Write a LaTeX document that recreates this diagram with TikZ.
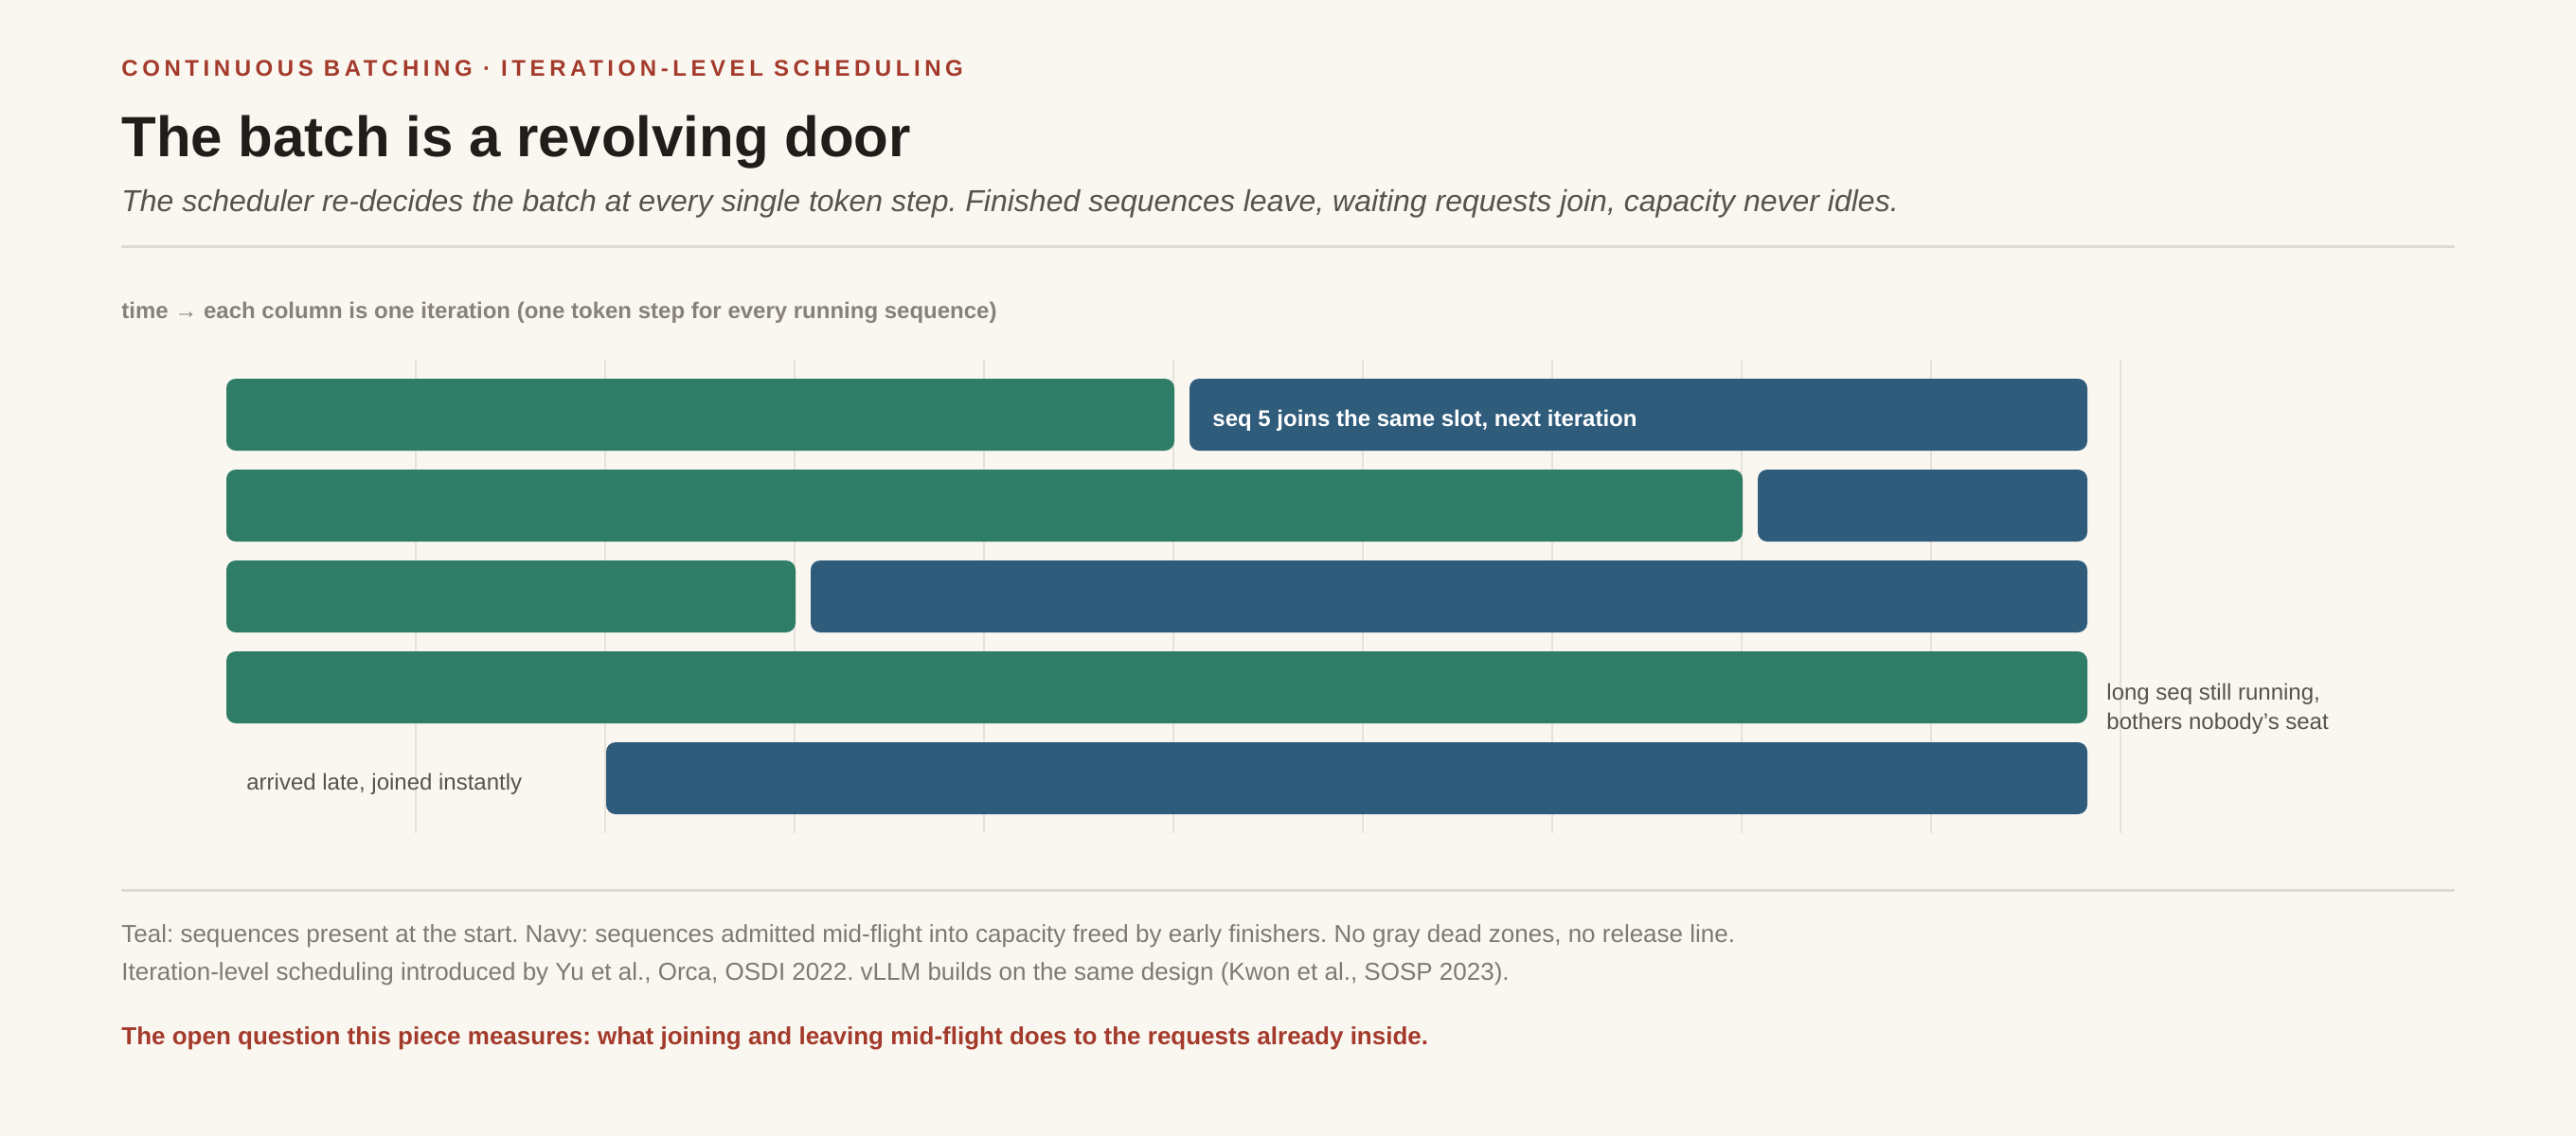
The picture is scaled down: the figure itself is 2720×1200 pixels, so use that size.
\documentclass[tikz,border=0pt]{standalone}
\usepackage{fontspec}
\setmainfont{Liberation Sans}
\newfontfamily\eyebrowfont[LetterSpace=19]{Liberation Sans}
\usetikzlibrary{positioning}
\frenchspacing

\definecolor{paper}{HTML}{FAF7F1}
\definecolor{tealbar}{HTML}{2F7D66}
\definecolor{navybar}{HTML}{305C7C}
\definecolor{brick}{HTML}{A33A2B}
\definecolor{ink}{HTML}{201E1B}
\definecolor{subgray}{HTML}{57524B}
\definecolor{axisgray}{HTML}{878179}
\definecolor{notegray}{HTML}{7E7971}
\definecolor{gridgray}{HTML}{E7E2D9}
\definecolor{rulegray}{HTML}{DEDAD2}

\begin{document}
\begin{tikzpicture}[x=0.5pt,y=-0.5pt,
  bar/.style={rectangle,rounded corners=5pt,inner sep=0pt,outer sep=0pt,minimum height=38pt,anchor=west},
  teal/.style={bar,fill=tealbar},
  navy/.style={bar,fill=navybar},
  txt/.style={inner sep=0pt,anchor=base west},
  gridline/.style={gridgray,line width=1pt},
  rule/.style={rulegray,line width=1.5pt}]
  \fill[paper] (0,0) rectangle (2720,1200);
  \useasboundingbox (0,0) rectangle (2720,1200);

  % header
  \node[txt,text=brick,font=\eyebrowfont\bfseries\fontsize{12}{14}\selectfont] (eyebrow) at (128,80) {CONTINUOUS BATCHING · ITERATION-LEVEL SCHEDULING};
  \node[txt,text=ink,font=\bfseries\fontsize{30}{36}\selectfont] (title) at (128,165) {The batch is a revolving door};
  \node[txt,text=subgray,font=\itshape\fontsize{16}{19}\selectfont] (subtitle) at (128,223) {The scheduler re-decides the batch at every single token step. Finished sequences leave, waiting requests join, capacity never idles.};
  \draw[rule] (128,260) -- (2592,260);

  \node[txt,text=axisgray,font=\bfseries\fontsize{12}{14}\selectfont] (axis) at (128,336) {time → each column is one iteration (one token step for every running sequence)};

  % iteration columns
  \foreach \i in {1,...,10}
    \draw[gridline] (239+200*\i,380) -- (239+200*\i,880);

  % slots
  \node[teal,minimum width=500.5pt] (t1) at (239,438) {};
  \node[navy,minimum width=474pt,right=8pt of t1] (n1) {};
  \node[teal,minimum width=800.5pt] (t2) at (239,534) {};
  \node[navy,minimum width=174pt,right=8pt of t2] (n2) {};
  \node[teal,minimum width=300.5pt] (t3) at (239,630) {};
  \node[navy,minimum width=674pt,right=8pt of t3] (n3) {};
  \node[teal,minimum width=982.5pt] (t4) at (239,726) {};
  \node[navy,minimum width=782pt] (n5) at (640,822) {};

  \node[txt,text=white,font=\bfseries\fontsize{12}{14}\selectfont] (joins) at (1280,450) {seq 5 joins the same slot, next iteration};
  \node[txt,text=subgray,font=\fontsize{12}{15.5}\selectfont,align=left] (longseq) at (2224,770) {long seq still running,\\bothers nobody{\char"0027}s seat};
  \node[txt,text=subgray,font=\fontsize{12}{14}\selectfont] (late) at (260,834) {arrived late, joined instantly};

  % footer
  \draw[rule] (128,940) -- (2592,940);
  \node[txt,text=notegray,font=\fontsize{13}{20}\selectfont,align=left] (notes) at (128,1035) {Teal: sequences present at the start. Navy: sequences admitted mid-flight into capacity freed by early finishers. No gray dead zones, no release line.\\Iteration-level scheduling introduced by Yu et al., Orca, OSDI 2022. vLLM builds on the same design (Kwon et al., SOSP 2023).};
  \node[txt,text=brick,font=\bfseries\fontsize{13}{15}\selectfont] (question) at (128,1103) {The open question this piece measures: what joining and leaving mid-flight does to the requests already inside.};
\end{tikzpicture}
\end{document}
